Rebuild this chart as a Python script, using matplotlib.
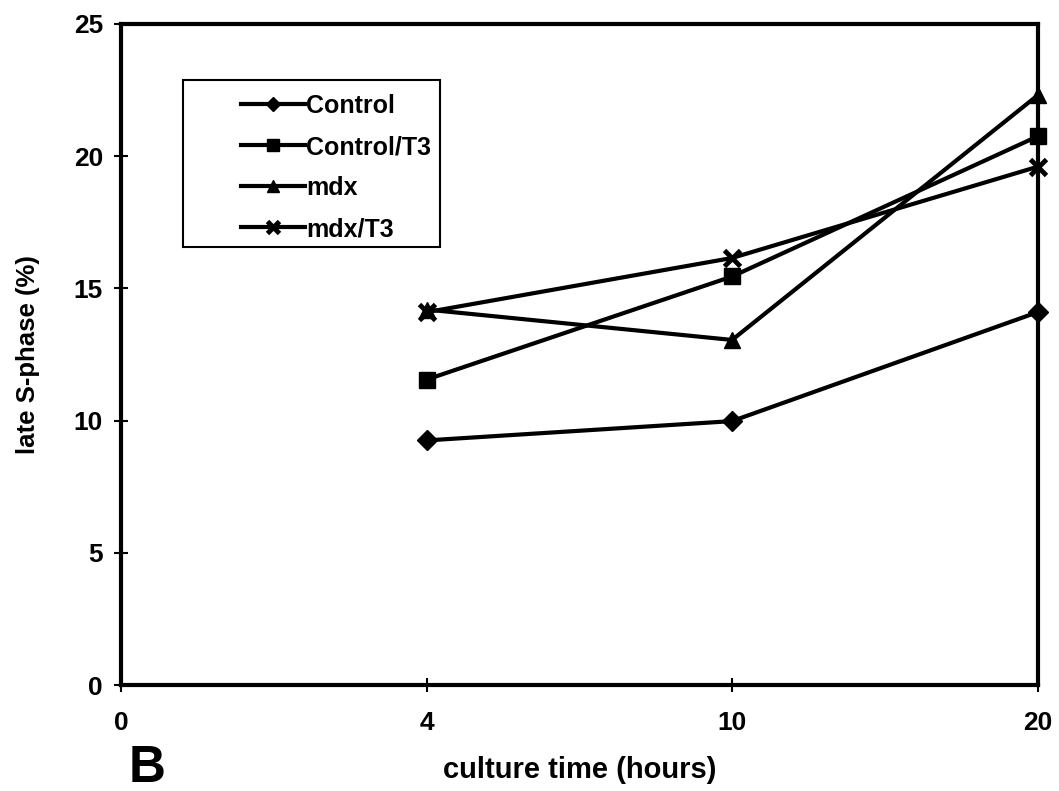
import numpy as np
import matplotlib.pyplot as plt
from matplotlib.patches import Rectangle

plt.rcParams['font.family'] = ['Liberation Sans', 'DejaVu Sans']
plt.rcParams['font.weight'] = 'bold'
plt.rcParams['axes.labelweight'] = 'bold'

hours = ['0', '4', '10', '20']
t_measured = ['4', '10', '20']

control = [9.25, 9.98, 14.1]
control_t3 = [11.55, 15.45, 20.75]
mdx = [14.2, 13.05, 22.3]
mdx_t3 = [14.1, 16.15, 19.6]

fig = plt.figure(figsize=(10.59, 7.91), dpi=100)
ax = fig.add_axes([0.1143, 0.134, 0.8655, 0.8357])

x = np.array([hours.index(h) for h in t_measured])
kw = dict(color='black', lw=3, clip_on=False)
ax.plot(x, control, marker='D', markersize=10, label='Control', **kw)
ax.plot(x, control_t3, marker='s', markersize=11, label='Control/T3', **kw)
ax.plot(x, mdx, marker='^', markersize=11, label='mdx', **kw)
ax.plot(x, mdx_t3, marker='x', markersize=11, mew=3.5, label='mdx/T3', **kw)

ax.set_xlim(0, len(hours) - 1)
ax.set_ylim(0, 25)
ax.set_xticks(range(len(hours)))
ax.set_xticklabels(hours)
ax.set_yticks(range(0, 26, 5))
ax.tick_params(direction='inout', length=10, width=1.5, labelsize=19, pad=14)
ax.tick_params(axis='y', pad=8)
for s in ax.spines.values():
    s.set_linewidth(3)

ax.set_ylabel('late S-phase (%)', fontsize=18.5, labelpad=24)
ax.set_xlabel('culture time (hours)', fontsize=21, labelpad=15)
fig.text(0.121, 0.012, 'B', fontsize=37, fontweight='bold', va='baseline')

# legend box drawn separately so the entries can sit well inside it
ax.add_patch(Rectangle((0.0677, 0.663), 0.2805, 0.252, transform=ax.transAxes,
                       fill=False, edgecolor='black', lw=1.5, zorder=4))
ax.legend(loc='upper left', bbox_to_anchor=(0.131, 0.894), fontsize=18,
          frameon=False, handlelength=2.55, handletextpad=0.05, borderpad=0,
          labelspacing=0.68, borderaxespad=0, markerscale=0.75)

fig.savefig('out.png', dpi=100)
